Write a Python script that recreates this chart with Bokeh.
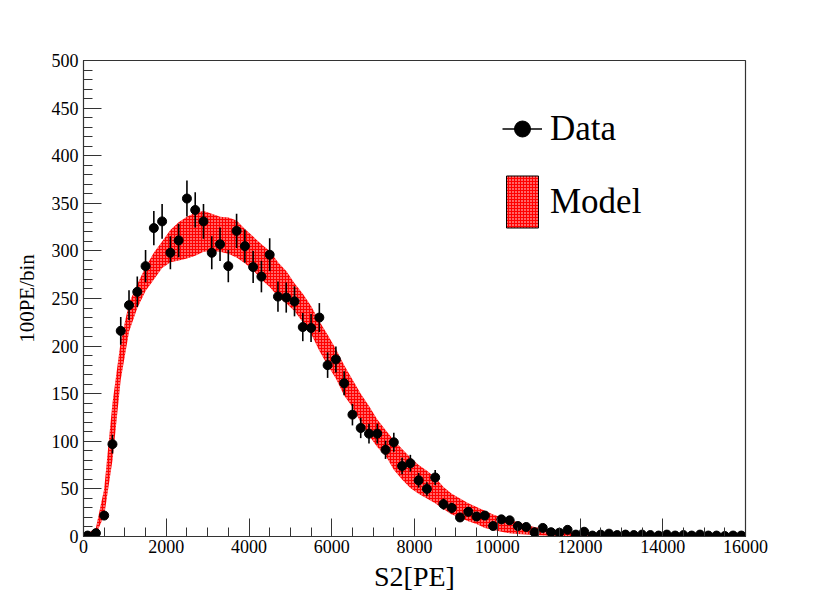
import numpy as np
from bokeh.plotting import figure
from bokeh.models import Legend, LegendItem, FixedTicker, Range1d
from bokeh.embed import file_html
from bokeh.resources import INLINE

# bin centers (200 PE bins)
bin_centers = list(range(100, 16000, 200))

data_counts = [1, 3.5, 22, 97, 216, 243, 257, 284, 324, 331,
               298, 311, 355, 343, 331, 298, 307, 284, 321, 305,
               283, 273, 296, 252, 251, 247, 220, 219, 230, 180,
               186, 161, 128, 114, 108, 108, 91, 99, 74, 77,
               59, 50, 62, 34, 30, 20, 26, 21, 22, 11,
               18, 17, 11, 10, 4.5, 9, 4.5, 4, 7, 2,
               5, 1, 2, 3, 1.5, 2, 1.5, 2, 1.5, 1,
               2, 1, 1.5, 1, 2, 1, 1, 0.5, 1, 1]

model_lower = [0, 2, 22, 80, 165, 215, 240, 258, 270, 282,
               288, 290, 292, 295, 299, 300, 299, 297, 293, 287,
               280, 270, 262, 252, 245, 237, 225, 213, 195, 180,
               166, 148, 136, 120, 106, 94, 85, 70, 60, 51,
               45, 40, 35, 29, 23, 20, 16, 13, 9, 7,
               5, 3.5, 2.5, 2, 1.5, 1, 0.8, 0.6, 0.5, 0.4,
               0.3, 0.3, 0.2, 0.2, 0.2, 0.2, 0.2, 0.2, 0.2, 0.2,
               0.2, 0.2, 0.2, 0.2, 0.2, 0.2, 0.2, 0.2, 0.2, 0.2]

model_upper = [3, 9, 50, 140, 205, 245, 265, 283, 298, 310,
               322, 330, 336, 340, 342, 339, 336, 335, 332, 323,
               315, 307, 300, 288, 279, 266, 255, 242, 226, 212,
               197, 180, 165, 150, 137, 123, 112, 101, 92, 83,
               75, 69, 62, 52, 45, 40, 35, 31, 27, 23,
               20, 18, 15, 12, 10, 8.5, 7, 6, 5, 4.2,
               3.6, 3.2, 3, 2.8, 2.6, 2.5, 2.4, 2.3, 2.2, 2.1,
               2, 2, 1.9, 1.9, 1.8, 1.8, 1.7, 1.7, 1.6, 1.6]

x_major = [0, 2000, 4000, 6000, 8000, 10000, 12000, 14000, 16000]
y_major = [0, 50, 100, 150, 200, 250, 300, 350, 400, 450, 500]

counts = np.array(data_counts, dtype=float)
errs = np.sqrt(counts)

FONT = "Liberation Serif"
AX = "#333333"

p = figure(frame_width=662, frame_height=476,
           min_border_left=83, min_border_right=70, min_border_top=60, min_border_bottom=48,
           x_range=Range1d(0, 16000), y_range=Range1d(0, 500),
           output_backend="svg", toolbar_location=None)

p.xgrid.visible = False
p.ygrid.visible = False
p.outline_line_color = AX
p.outline_line_width = 1.2

band = p.varea(x=bin_centers, y1=model_lower, y2=model_upper,
               fill_color="#ff0000", hatch_pattern="dot", hatch_color="white",
               hatch_scale=3, hatch_weight=0.9)

seg = p.segment(x0=bin_centers, y0=counts - errs, x1=bin_centers, y1=counts + errs,
                line_color="black", line_width=1.6)
pts = p.scatter(x=bin_centers, y=counts, size=9, color="black")

# legend-only proxies (no visible mark in the plot area)
nan = float("nan")
proxy = p.quad(left=[nan], right=[nan], top=[nan], bottom=[nan], fill_color="#ff0000",
               hatch_pattern="dot", hatch_color="white", hatch_scale=3, hatch_weight=0.9,
               line_color="black", line_width=1)
leg_line = p.segment(x0=[nan], y0=[nan], x1=[nan], y1=[nan], line_color="black", line_width=1.3)
leg_pt = p.scatter(x=[nan], y=[nan], size=7, color="black")

legend = Legend(items=[LegendItem(label="Data", renderers=[leg_line, leg_pt]),
                       LegendItem(label="Model", renderers=[proxy])],
                location=(419, 302), glyph_width=40, glyph_height=65,
                label_text_font=FONT, label_text_font_size="35px",
                label_text_color="black", spacing=8, padding=0, margin=0,
                label_standoff=8, border_line_color=None, background_fill_alpha=0)
p.add_layout(legend)

p.xaxis.ticker = FixedTicker(ticks=x_major, minor_ticks=list(range(0, 16001, 500)))
p.yaxis.ticker = FixedTicker(ticks=y_major, minor_ticks=list(range(0, 501, 10)))

for ax in (p.xaxis[0], p.yaxis[0]):
    ax.axis_line_color = AX
    ax.major_tick_line_color = AX
    ax.minor_tick_line_color = AX
    ax.major_tick_in = 18
    ax.major_tick_out = 0
    ax.minor_tick_in = 9
    ax.minor_tick_out = 0
    ax.major_label_text_font = FONT
    ax.major_label_text_font_size = "18px"
    ax.major_label_text_color = "black"
    ax.axis_label_text_font = FONT
    ax.axis_label_text_font_style = "normal"
    ax.axis_label_text_color = "black"

p.xaxis.axis_label = "S2[PE]"
p.xaxis.axis_label_text_font_size = "28px"
p.xaxis.major_label_standoff = 3
p.xaxis.axis_label_standoff = 5
p.yaxis.axis_label = "100PE/bin"
p.yaxis.axis_label_text_font_size = "21px"
p.yaxis.major_label_standoff = 5
p.yaxis.axis_label_standoff = 10

open("out.html", "w").write(file_html(p, INLINE))
